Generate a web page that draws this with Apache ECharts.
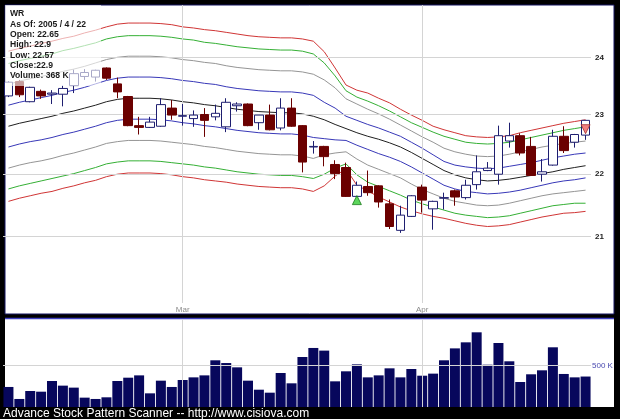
<!DOCTYPE html>
<html><head><meta charset="utf-8">
<script src="https://cdn.jsdelivr.net/npm/echarts@6/dist/echarts.min.js"></script>
<style>html,body{margin:0;padding:0;background:#000;}#c{width:620px;height:419px;}</style>
</head><body><div id="c"></div>
<script>
const dates = ['2005-02-04','2005-02-07','2005-02-08','2005-02-09','2005-02-10','2005-02-11','2005-02-14','2005-02-15','2005-02-16','2005-02-17','2005-02-18','2005-02-22','2005-02-23','2005-02-24','2005-02-25','2005-02-28',
'2005-03-01','2005-03-02','2005-03-03','2005-03-04','2005-03-07','2005-03-08','2005-03-09','2005-03-10','2005-03-11','2005-03-14','2005-03-15','2005-03-16','2005-03-17','2005-03-18','2005-03-21','2005-03-22','2005-03-23','2005-03-24','2005-03-28','2005-03-29','2005-03-30','2005-03-31',
'2005-04-01','2005-04-04','2005-04-05','2005-04-06','2005-04-07','2005-04-08','2005-04-11','2005-04-12','2005-04-13','2005-04-14','2005-04-15','2005-04-18','2005-04-19','2005-04-20','2005-04-21','2005-04-22'];
const openP  = [23.32,23.57,23.22,23.40,23.35,23.35,23.50,23.66,23.65,23.81,23.53,23.31,22.81,22.78,22.80,23.11,22.97,22.93,23.00,22.96,22.79,23.15,23.18,22.86,22.99,22.77,23.11,22.81,22.45,22.46,22.16,22.11,21.64,21.80,21.81,21.52,21.10,21.32,21.79,21.44,21.61,21.73,21.62,21.83,22.06,22.00,22.55,22.64,22.46,22.00,22.15,22.63,22.53,22.65];
const closeP = [23.56,23.34,23.47,23.32,23.37,23.45,23.71,23.73,23.77,23.63,23.39,22.81,22.78,22.87,23.17,22.99,22.98,22.99,22.90,23.02,23.21,23.18,22.81,22.99,22.74,23.11,22.80,22.20,22.46,22.29,22.01,21.64,21.82,21.70,21.55,21.16,21.34,21.65,21.58,21.56,21.62,21.63,21.82,22.04,22.10,22.64,22.64,22.35,21.98,22.04,22.63,22.39,22.66,22.90];
const lowP   = [23.30,23.30,23.21,23.27,23.18,23.14,23.37,23.60,23.57,23.60,23.28,22.80,22.66,22.77,22.79,22.91,22.81,22.79,22.62,22.90,22.70,23.05,22.80,22.74,22.73,22.73,22.79,22.03,22.34,22.13,21.92,21.63,21.63,21.65,21.46,21.12,21.06,21.31,21.38,21.11,21.43,21.49,21.59,21.75,22.05,21.83,22.44,22.31,21.97,21.88,22.14,22.35,22.44,22.57];
const highP  = [23.58,23.60,23.48,23.43,23.42,23.50,23.78,23.79,23.78,23.82,23.64,23.32,22.96,22.96,23.28,23.25,23.18,23.07,23.11,23.17,23.28,23.21,23.19,22.99,23.17,23.28,23.28,22.82,22.55,22.47,22.23,22.19,21.88,22.06,21.82,21.59,21.49,21.66,21.83,21.57,21.70,21.75,21.91,22.31,22.20,22.81,22.86,22.68,22.62,22.25,22.74,22.80,22.67,22.90];
const volumeK = [242,97,193,185,314,258,234,113,97,117,314,354,382,165,318,242,326,358,382,564,531,479,318,209,173,411,286,604,713,681,310,431,515,358,382,467,358,459,378,403,564,708,781,902,511,773,552,302,395,443,721,399,358,368];

const midLine    = [22.80,22.85,22.89,22.93,22.97,23.02,23.06,23.11,23.16,23.22,23.26,23.28,23.28,23.28,23.27,23.25,23.22,23.20,23.17,23.15,23.12,23.09,23.07,23.05,23.04,23.03,23.03,23.01,22.97,22.91,22.83,22.76,22.69,22.63,22.58,22.52,22.45,22.36,22.26,22.16,22.06,21.99,21.94,21.91,21.89,21.90,21.92,21.95,21.98,22.01,22.04,22.08,22.11,22.14];
const upperBlue  = [23.16,23.21,23.25,23.29,23.33,23.38,23.42,23.47,23.53,23.59,23.63,23.65,23.65,23.65,23.64,23.62,23.59,23.57,23.54,23.52,23.48,23.45,23.43,23.41,23.40,23.39,23.39,23.37,23.33,23.21,23.11,22.97,22.90,22.83,22.77,22.70,22.63,22.53,22.43,22.32,22.21,22.15,22.12,22.10,22.09,22.10,22.13,22.16,22.19,22.23,22.27,22.30,22.33,22.35];
const upperGray  = [23.52,23.58,23.62,23.66,23.70,23.75,23.79,23.84,23.90,23.96,24.00,24.02,24.02,24.02,24.01,23.99,23.96,23.94,23.91,23.89,23.85,23.82,23.80,23.78,23.77,23.76,23.76,23.74,23.70,23.60,23.46,23.27,23.18,23.09,23.01,22.92,22.82,22.72,22.62,22.53,22.43,22.37,22.33,22.30,22.29,22.30,22.33,22.37,22.41,22.45,22.48,22.51,22.53,22.55];
const upperGreen = [23.89,23.94,23.98,24.02,24.06,24.12,24.16,24.21,24.26,24.33,24.37,24.39,24.39,24.39,24.38,24.36,24.33,24.31,24.27,24.25,24.22,24.19,24.17,24.15,24.14,24.13,24.13,24.11,24.06,23.90,23.67,23.41,23.30,23.23,23.15,23.06,22.96,22.86,22.78,22.70,22.63,22.58,22.53,22.51,22.50,22.51,22.53,22.57,22.61,22.65,22.69,22.73,22.76,22.79];
const upperRed   = [24.11,24.16,24.20,24.25,24.29,24.34,24.38,24.44,24.49,24.55,24.60,24.62,24.62,24.62,24.61,24.59,24.55,24.53,24.50,24.48,24.45,24.42,24.39,24.37,24.36,24.35,24.35,24.33,24.29,24.10,23.81,23.51,23.42,23.37,23.28,23.20,23.09,22.99,22.90,22.80,22.74,22.69,22.64,22.62,22.61,22.62,22.64,22.69,22.73,22.77,22.81,22.85,22.88,22.91];
const lowerBlue  = [22.45,22.50,22.54,22.57,22.61,22.66,22.70,22.75,22.80,22.86,22.90,22.92,22.92,22.92,22.91,22.89,22.86,22.84,22.81,22.79,22.76,22.73,22.71,22.69,22.68,22.67,22.67,22.65,22.61,22.59,22.57,22.56,22.48,22.41,22.34,22.28,22.21,22.12,22.02,21.92,21.82,21.76,21.72,21.70,21.68,21.69,21.71,21.74,21.78,21.82,21.86,21.89,21.91,21.94];
const lowerGray  = [22.10,22.15,22.19,22.22,22.26,22.31,22.35,22.40,22.45,22.51,22.54,22.56,22.56,22.56,22.55,22.53,22.51,22.49,22.46,22.44,22.41,22.38,22.36,22.34,22.33,22.32,22.32,22.30,22.26,22.32,22.35,22.37,22.25,22.15,22.08,22.01,21.94,21.84,21.75,21.68,21.61,21.56,21.53,21.50,21.49,21.50,21.53,21.57,21.61,21.65,21.68,21.70,21.72,21.74];
const lowerGreen = [21.76,21.81,21.85,21.89,21.93,21.97,22.01,22.06,22.11,22.17,22.20,22.22,22.22,22.22,22.21,22.19,22.17,22.15,22.12,22.10,22.07,22.04,22.02,22.00,21.99,21.98,21.98,21.96,21.93,22.00,22.10,22.17,21.99,21.87,21.80,21.73,21.66,21.58,21.52,21.47,21.42,21.37,21.34,21.32,21.30,21.31,21.33,21.37,21.41,21.45,21.49,21.51,21.53,21.53];
const lowerRed   = [21.56,21.61,21.65,21.69,21.72,21.77,21.81,21.86,21.90,21.96,22.00,22.02,22.02,22.02,22.01,21.99,21.96,21.94,21.91,21.89,21.87,21.84,21.82,21.80,21.79,21.78,21.78,21.76,21.72,21.81,21.97,22.09,21.82,21.73,21.63,21.55,21.47,21.41,21.36,21.32,21.29,21.25,21.21,21.18,21.16,21.17,21.19,21.23,21.27,21.31,21.34,21.37,21.38,21.40];

const priceTicks = [21, 22, 23, 24];
const monthStarts = ['2005-03-01', '2005-04-01'];
const monthNames = ['Mar', 'Apr'];
const volumeTick = 500;
const buySignal = ['2005-03-23', 21.58];
const sellSignal = ['2005-04-22', 22.75];
const infoLines = ['WR', 'As Of: 2005 / 4 / 22', 'Open: 22.65', 'High: 22.9', 'Low: 22.57', 'Close:22.9', 'Volume: 368 K'];
const footer = 'Advance Stock Pattern Scanner -- http://www.cisiova.com';

const chart = echarts.init(document.getElementById('c'), null, {renderer: 'canvas'});

function band(data, color) {
  return {type: 'line', data: data, xAxisIndex: 0, yAxisIndex: 0, symbol: 'none', silent: true,
    lineStyle: {color: color, width: 1}, z: 3, animation: false};
}
const monthMarks = monthStarts.map(d => ({xAxis: d, label: {show: false}}));

const series = [
  Object.assign(band(upperRed, '#d03535'), {
    markLine: {silent: true, symbol: ['none', 'none'], animation: false,
      lineStyle: {color: '#d4d4d4', width: 1, type: 'solid'},
      label: {show: true, position: 'end', distance: 4, color: '#222', fontSize: 8, fontFamily: 'Arial', fontWeight: 'bold',
        formatter: p => String(p.value)},
      data: priceTicks.map(v => ({yAxis: v})).concat(monthMarks)}
  }),
  band(upperGreen, '#35b035'),
  band(upperGray, '#959595'),
  band(upperBlue, '#3838b8'),
  band(midLine, '#202020'),
  band(lowerBlue, '#3838b8'),
  band(lowerGray, '#959595'),
  band(lowerGreen, '#35b035'),
  band(lowerRed, '#d03535'),
  {type: 'candlestick', xAxisIndex: 0, yAxisIndex: 0, barWidth: 9, z: 5, animation: false, silent: true,
    data: dates.map((d, i) => [openP[i], closeP[i], lowP[i], highP[i]]),
    itemStyle: {color: '#ffffff', color0: '#6b0000', borderColor: '#1e1e70', borderColor0: '#6b0000', borderWidth: 1}},
  {type: 'scatter', xAxisIndex: 0, yAxisIndex: 0, z: 6, symbol: 'triangle', symbolSize: [9, 9], silent: true, animation: false,
    data: [buySignal], itemStyle: {color: '#33cc33', borderColor: '#1a7a1a', borderWidth: 1}},
  {type: 'scatter', xAxisIndex: 0, yAxisIndex: 0, z: 6, symbol: 'triangle', symbolRotate: 180, symbolSize: [9, 9], silent: true, animation: false,
    data: [sellSignal], itemStyle: {color: '#f06060', borderColor: '#a03030', borderWidth: 1}},
  {type: 'bar', xAxisIndex: 1, yAxisIndex: 1, barWidth: 10, silent: true, animation: false,
    data: volumeK.map(v => v * 1000), itemStyle: {color: '#07075c'},
    markLine: {silent: true, symbol: ['none', 'none'], animation: false,
      lineStyle: {color: '#d4d4d4', width: 1, type: 'solid'},
      label: {show: true, position: 'end', distance: 1, color: '#4a4ab0', fontSize: 8, fontFamily: 'Arial',
        formatter: p => (p.value / 1000) + ' K'},
      data: [{yAxis: volumeTick * 1000}].concat(monthMarks)}}
];

const graphics = [
  {type: 'rect', shape: {x: 5, y: 5, width: 609, height: 309}, style: {fill: '#ffffff', stroke: '#141460', lineWidth: 1}, z: -10, silent: true},
  {type: 'rect', shape: {x: 5, y: 318.5, width: 609, height: 88.5}, style: {fill: '#ffffff'}, z: -10, silent: true},
  {type: 'line', shape: {x1: 5, y1: 318.5, x2: 614, y2: 318.5}, style: {stroke: '#4040c0', lineWidth: 1.5}, z: -9, silent: true},
  {type: 'rect', shape: {x: 5, y: 5, width: 96, height: 81}, style: {fill: 'rgba(255,255,255,0.62)'}, z: 100, silent: true},
  {type: 'text', x: 3, y: 413.5, z: 100, silent: true, style: {text: footer, fontSize: 12, fontFamily: 'Arial', fill: '#ffffff', verticalAlign: 'middle', align: 'left'}}
].concat(infoLines.map((t, i) => ({
  type: 'text', x: 10, y: 14 + i * 10.3, z: 101, silent: true,
  style: {text: t, fontSize: 8.6, fontWeight: 'bold', fontFamily: 'Arial', fill: '#1a1a1a', verticalAlign: 'middle', align: 'left'}
})));

chart.setOption({
  animation: false,
  backgroundColor: '#000000',
  grid: [
    {left: 3, right: 29, top: 5, height: 298},
    {left: 3, right: 29, top: 319, height: 88}
  ],
  xAxis: [
    {type: 'category', gridIndex: 0, data: dates, boundaryGap: true,
      axisLine: {show: false}, axisTick: {show: false}, splitLine: {show: false},
      axisLabel: {show: true, margin: 3, color: '#8a8a8a', fontSize: 8, fontFamily: 'Arial',
        interval: (idx, val) => monthStarts.indexOf(val) >= 0,
        formatter: val => monthNames[monthStarts.indexOf(val)] || ''}},
    {type: 'category', gridIndex: 1, data: dates, boundaryGap: true,
      axisLine: {show: false}, axisTick: {show: false}, splitLine: {show: false}, axisLabel: {show: false}}
  ],
  yAxis: [
    {type: 'log', logBase: 10, gridIndex: 0, min: 19.989, max: 24.953,
      axisLine: {show: false}, axisTick: {show: false}, splitLine: {show: false}, axisLabel: {show: false}},
    {type: 'value', gridIndex: 1, min: 0, max: 1062800,
      axisLine: {show: false}, axisTick: {show: false}, splitLine: {show: false}, axisLabel: {show: false}}
  ],
  graphic: graphics,
  series: series
});
</script>
</body></html>
